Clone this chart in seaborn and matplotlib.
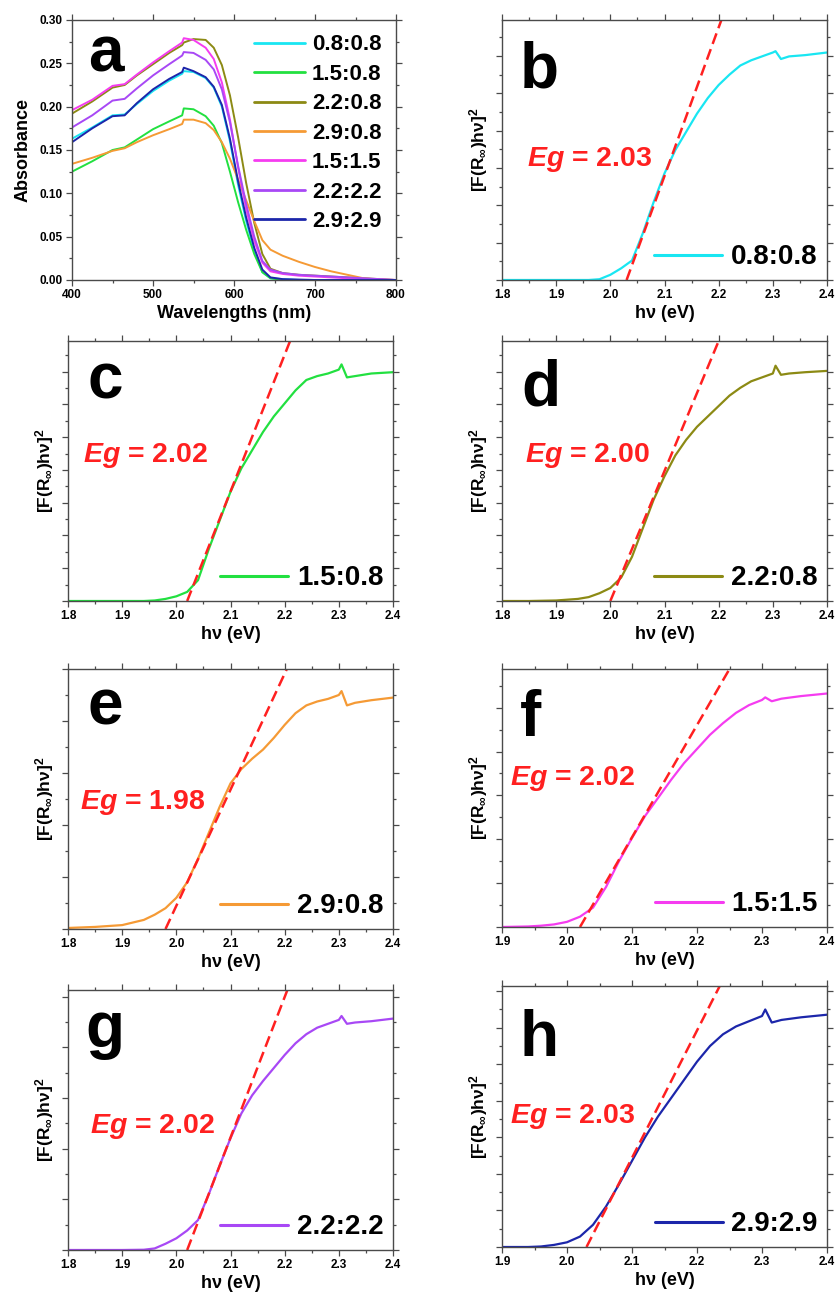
import numpy as np
import pandas as pd
import matplotlib
matplotlib.use('Agg')
import matplotlib.pyplot as plt
from matplotlib.ticker import MultipleLocator
import seaborn as sns

# ---- panel a : absorbance spectra ----
wavelength = [400, 425, 450, 465, 480, 500, 520, 536, 538, 550, 565, 575, 585, 595,
              605, 615, 625, 635, 645, 660, 680, 700, 720, 740, 760, 780, 800]
abs_08_08 = [0.163, 0.176, 0.190, 0.191, 0.203, 0.218, 0.230, 0.238, 0.241, 0.240, 0.233, 0.222, 0.200, 0.160,
             0.110, 0.068, 0.034, 0.009, 0.002, 0.001, 0.0, 0.0, 0.0, 0.0, 0.0, 0.0, 0.0]
abs_15_08 = [0.125, 0.137, 0.150, 0.153, 0.162, 0.174, 0.183, 0.190, 0.198, 0.197, 0.189, 0.178, 0.158, 0.125,
             0.090, 0.058, 0.030, 0.009, 0.002, 0.0, 0.0, 0.0, 0.0, 0.0, 0.0, 0.0, 0.0]
abs_22_08 = [0.192, 0.206, 0.222, 0.225, 0.236, 0.249, 0.262, 0.271, 0.274, 0.278, 0.277, 0.268, 0.248, 0.213,
             0.165, 0.112, 0.066, 0.030, 0.013, 0.008, 0.006, 0.005, 0.004, 0.003, 0.002, 0.001, 0.0]
abs_29_08 = [0.134, 0.141, 0.149, 0.152, 0.159, 0.167, 0.174, 0.180, 0.185, 0.185, 0.181, 0.173, 0.159, 0.140,
             0.116, 0.092, 0.068, 0.046, 0.035, 0.028, 0.021, 0.015, 0.010, 0.006, 0.002, 0.0003, 0.0]
abs_15_15 = [0.196, 0.208, 0.224, 0.226, 0.237, 0.251, 0.264, 0.274, 0.279, 0.277, 0.268, 0.255, 0.228, 0.185,
             0.130, 0.082, 0.045, 0.020, 0.010, 0.007, 0.005, 0.004, 0.003, 0.002, 0.001, 0.0005, 0.0]
abs_22_22 = [0.176, 0.190, 0.207, 0.209, 0.221, 0.236, 0.249, 0.259, 0.263, 0.262, 0.254, 0.243, 0.220, 0.182,
             0.132, 0.088, 0.050, 0.022, 0.012, 0.008, 0.006, 0.005, 0.004, 0.003, 0.002, 0.001, 0.0]
abs_29_29 = [0.159, 0.175, 0.189, 0.190, 0.204, 0.220, 0.232, 0.240, 0.245, 0.241, 0.234, 0.223, 0.202, 0.163,
             0.114, 0.072, 0.037, 0.012, 0.003, 0.001, 0.0005, 0.0, 0.0, 0.0, 0.0, 0.0, 0.0]

ratios = ['0.8:0.8', '1.5:0.8', '2.2:0.8', '2.9:0.8', '1.5:1.5', '2.2:2.2', '2.9:2.9']
colors = ['#19e6f2', '#22e040', '#8c8a14', '#f59a35', '#f53cf0', '#a848f5', '#1c26aa']

# ---- panels b-h : Tauc plots (normalised, arbitrary units) ----
energy = [1.80, 1.85, 1.90, 1.94, 1.96, 1.98, 2.00, 2.02, 2.04, 2.06, 2.08, 2.10, 2.12, 2.14,
          2.16, 2.18, 2.20, 2.22, 2.24, 2.26, 2.28, 2.30, 2.305, 2.315, 2.33, 2.36, 2.40]
tauc_08_08 = [0, 0, 0, 0, 0.0, 0.003, 0.02, 0.045, 0.075, 0.18, 0.30, 0.41, 0.50, 0.57,
              0.64, 0.70, 0.75, 0.79, 0.825, 0.845, 0.86, 0.875, 0.88, 0.85, 0.86, 0.865, 0.875]
tauc_15_08 = [0, 0, 0, 0, 0.002, 0.008, 0.018, 0.035, 0.08, 0.20, 0.31, 0.42, 0.51, 0.58,
              0.65, 0.71, 0.76, 0.81, 0.85, 0.865, 0.875, 0.89, 0.91, 0.86, 0.865, 0.875, 0.88]
tauc_22_08 = [0, 0, 0.002, 0.008, 0.015, 0.03, 0.05, 0.09, 0.17, 0.28, 0.39, 0.48, 0.56, 0.62,
              0.67, 0.71, 0.75, 0.79, 0.82, 0.845, 0.86, 0.875, 0.905, 0.87, 0.875, 0.88, 0.885]
tauc_29_08 = [0.004, 0.008, 0.015, 0.035, 0.055, 0.08, 0.12, 0.18, 0.27, 0.37, 0.47, 0.56, 0.615, 0.655,
              0.69, 0.735, 0.785, 0.83, 0.86, 0.875, 0.885, 0.90, 0.915, 0.86, 0.87, 0.88, 0.89]
tauc_15_15 = [0, 0, 0, 0.002, 0.005, 0.01, 0.02, 0.04, 0.075, 0.155, 0.255, 0.345, 0.43, 0.50,
              0.57, 0.635, 0.69, 0.745, 0.79, 0.83, 0.86, 0.88, 0.89, 0.875, 0.885, 0.895, 0.905]
tauc_22_22 = [0, 0, 0, 0.001, 0.006, 0.024, 0.045, 0.075, 0.115, 0.215, 0.325, 0.43, 0.525, 0.595,
              0.65, 0.70, 0.75, 0.795, 0.83, 0.855, 0.87, 0.885, 0.90, 0.87, 0.875, 0.88, 0.89]
tauc_29_29 = [0, 0, 0, 0, 0.002, 0.008, 0.018, 0.04, 0.085, 0.155, 0.24, 0.33, 0.42, 0.50,
              0.57, 0.64, 0.71, 0.77, 0.815, 0.845, 0.865, 0.885, 0.91, 0.86, 0.87, 0.88, 0.89]
tauc_series = [tauc_08_08, tauc_15_08, tauc_22_08, tauc_29_08, tauc_15_15, tauc_22_22, tauc_29_29]

eg_values = [2.03, 2.02, 2.00, 1.98, 2.02, 2.02, 2.03]
fit_top_x = [2.205, 2.21, 2.20, 2.204, 2.25, 2.205, 2.235]   # where the tangent reaches the top
x_start = [1.8, 1.8, 1.8, 1.8, 1.9, 1.8, 1.9]

panel_letters = ['b', 'c', 'd', 'e', 'f', 'g', 'h']

# ---- style ----
sns.set_theme(style='ticks')
plt.rcParams['font.family'] = ['Liberation Sans', 'DejaVu Sans']
plt.rcParams['font.weight'] = 'bold'
plt.rcParams['axes.labelweight'] = 'bold'
plt.rcParams['text.color'] = 'black'
plt.rcParams['axes.labelcolor'] = 'black'
plt.rcParams['mathtext.fontset'] = 'custom'
plt.rcParams['mathtext.rm'] = 'Liberation Sans:bold'
plt.rcParams['mathtext.it'] = 'Liberation Sans:italic:bold'
plt.rcParams['mathtext.bf'] = 'Liberation Sans:bold'

W, H = 835, 1296
fig = plt.figure(figsize=(W / 100, H / 100), dpi=100)


def box(l, t, r, b):
    return [l / W, 1 - b / H, (r - l) / W, (b - t) / H]


def style_axes(ax):
    for s in ax.spines.values():
        s.set_color('#4a4a4a')
        s.set_linewidth(1.0)
    ax.tick_params(which='both', direction='out', top=True, right=True,
                   color='#4a4a4a', labelcolor='black', labelsize=8.5, pad=2.5, width=0.9)
    ax.tick_params(which='major', length=4)
    ax.tick_params(which='minor', length=2.2)


# panel a
ax = fig.add_axes(box(72, 20, 396, 280))
abs_series = [abs_08_08, abs_15_08, abs_22_08, abs_29_08, abs_15_15, abs_22_22, abs_29_29]
df = pd.DataFrame({
    'wavelength': wavelength * len(ratios),
    'absorbance': sum(abs_series, []),
    'ratio': np.repeat(ratios, len(wavelength)),
})
sns.lineplot(data=df, x='wavelength', y='absorbance', hue='ratio', hue_order=ratios,
             palette=colors, lw=1.4, ax=ax)
ax.set_xlim(400, 800)
ax.set_ylim(0, 0.30)
ax.xaxis.set_major_locator(MultipleLocator(100))
ax.xaxis.set_minor_locator(MultipleLocator(50))
ax.yaxis.set_major_locator(MultipleLocator(0.05))
ax.yaxis.set_minor_locator(MultipleLocator(0.025))
ax.set_xlabel('Wavelengths (nm)', fontsize=13, labelpad=3)
ax.set_ylabel('Absorbance', fontsize=13, labelpad=6)
style_axes(ax)
leg = ax.legend(loc='upper right', frameon=False, fontsize=16, handlelength=2.3,
                handletextpad=0.3, labelspacing=0.38, borderaxespad=0.45, borderpad=0.2)
for h in leg.legend_handles:
    h.set_linewidth(2.0)
ax.text(0.05, 0.80, 'a', transform=ax.transAxes, fontsize=46, fontweight='bold', va='baseline')

# panels b-h
boxes = [(502, 20, 827, 280), (68, 341, 393, 601), (502, 341, 827, 601),
         (68, 669, 393, 929), (502, 669, 827, 927), (68, 990, 393, 1250), (502, 986, 827, 1247)]
letter_pos = [(0.055, 0.74), (0.06, 0.78), (0.06, 0.75), (0.06, 0.785), (0.055, 0.74), (0.052, 0.78), (0.055, 0.73)]
eg_pos = [(0.077, 0.44), (0.046, 0.535), (0.07, 0.535), (0.037, 0.46), (0.025, 0.55), (0.068, 0.45), (0.025, 0.475)]
ytick_step = [0.1436, 0.126, 0.126, 0.2, 0.17, 0.195, 0.14]

for i in range(7):
    ax = fig.add_axes(box(*boxes[i]))
    sns.lineplot(x=energy, y=tauc_series[i], color=colors[i], lw=1.6, ax=ax, label=ratios[i])
    sns.lineplot(x=[eg_values[i], fit_top_x[i]], y=[0, 1.0], color='#ff2020', lw=1.8,
                 linestyle=(0, (4.5, 2.2)), ax=ax)
    ax.set_xlim(x_start[i], 2.4)
    ax.set_ylim(0, 1.0)
    ax.xaxis.set_major_locator(MultipleLocator(0.1))
    ax.xaxis.set_minor_locator(MultipleLocator(0.05))
    ax.yaxis.set_major_locator(MultipleLocator(ytick_step[i]))
    ax.yaxis.set_minor_locator(MultipleLocator(ytick_step[i] / 2))
    style_axes(ax)
    ax.tick_params(labelleft=False)
    ax.set_xlabel('hν (eV)', fontsize=13, labelpad=3)
    ax.set_ylabel(r'$\mathrm{[F(R_{\infty})h\nu]^2}$', fontsize=12.5, labelpad=4)
    leg = ax.legend(loc='lower right', frameon=False, fontsize=20, handlelength=2.45,
                    handletextpad=0.3, borderaxespad=0.2, borderpad=0.15)
    for h in leg.legend_handles:
        h.set_linewidth(2.2)
    lx, ly = letter_pos[i]
    ax.text(lx, ly, panel_letters[i], transform=ax.transAxes, fontsize=46,
            fontweight='bold', va='baseline')
    ex, ey = eg_pos[i]
    ax.text(ex, ey, r'$\mathit{Eg}$ = %.2f' % eg_values[i], transform=ax.transAxes,
            color='#ff2020', fontsize=20.5, fontweight='bold', va='baseline')

fig.savefig('out.png', dpi=100)
